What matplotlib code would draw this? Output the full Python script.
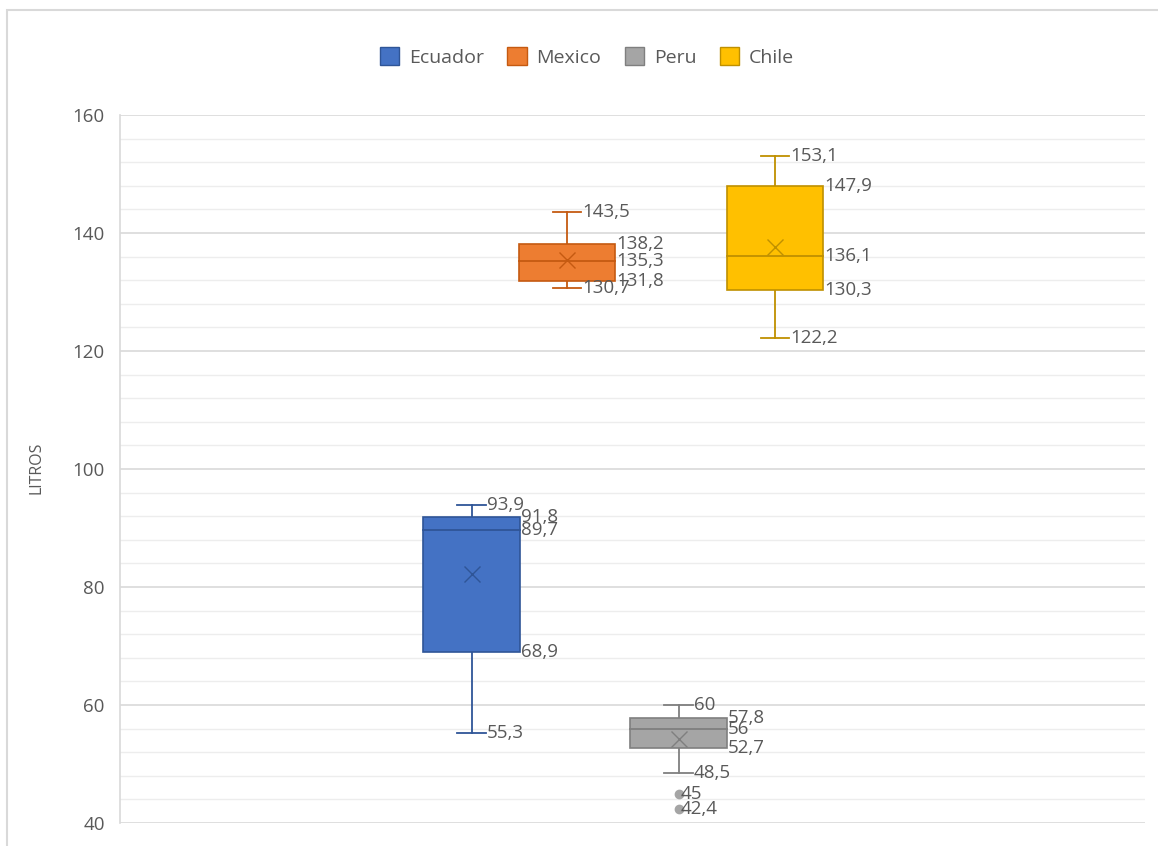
import numpy as np
import matplotlib.pyplot as plt
from matplotlib.patches import Rectangle, Patch

# --- Daten ---
COUNTRIES = ["Ecuador", "Mexico", "Peru", "Chile"]
COLORS = ["#4472C4", "#ED7D31", "#A5A5A5", "#FFC000"]
EDGES = ["#2F5597", "#C55A11", "#7F7F7F", "#BF9000"]

WHISK_LOW = [55.3, 130.7, 48.5, 122.2]
Q1 = [68.9, 131.8, 52.7, 130.3]
MEDIAN = [89.7, 135.3, 56.0, 136.1]
Q3 = [91.8, 138.2, 57.8, 147.9]
WHISK_HIGH = [93.9, 143.5, 60.0, 153.1]
MEANS = [82.2, 135.4, 54.2, 137.6]
OUTLIERS = [[], [], [45.0, 42.4], []]

Y_TICKS = [40, 60, 80, 100, 120, 140, 160]

# Lage der Boxen innerhalb der Kategorie (Achse 0..1)
POSITIONS = [0.343, 0.436, 0.545, 0.639]
BOX_W = 0.094
CAP_W = 0.028

TXT = "#595959"
FONT = "Open Sans"
LBL_SIZE = 13.5


def fmt(v):
    s = f"{v:g}"
    return s.replace(".", ",")


def plot_chart():
    fig = plt.figure(figsize=(11.58, 8.46), dpi=100)
    ax = fig.add_axes([120 / 1158, 1 - 823 / 846, 1025 / 1158, 708 / 846])

    # Rahmen des Diagrammbereichs
    fig.patches.append(Rectangle((7 / 1158, -0.1), 1.2, 1 - 10 / 846 + 0.1,
                                 transform=fig.transFigure, fill=False,
                                 edgecolor="#D9D9D9", linewidth=1.5))

    ax.set_xlim(0, 1)
    ax.set_ylim(40, 160)

    # Gitterlinien
    for y in np.arange(40, 161, 4):
        major = (y % 20 == 0)
        ax.axhline(y, color="#D9D9D9" if major else "#EDEDED",
                   linewidth=1.2 if major else 1.0, zorder=0)

    for i in range(len(COUNTRIES)):
        x = POSITIONS[i]
        c, e = COLORS[i], EDGES[i]
        # Whisker
        ax.plot([x, x], [WHISK_LOW[i], Q1[i]], color=e, lw=1.3, zorder=2)
        ax.plot([x, x], [Q3[i], WHISK_HIGH[i]], color=e, lw=1.3, zorder=2)
        ax.plot([x - CAP_W / 2, x + CAP_W / 2], [WHISK_LOW[i]] * 2, color=e, lw=1.3, zorder=2)
        ax.plot([x - CAP_W / 2, x + CAP_W / 2], [WHISK_HIGH[i]] * 2, color=e, lw=1.3, zorder=2)
        # Box
        ax.add_patch(Rectangle((x - BOX_W / 2, Q1[i]), BOX_W, Q3[i] - Q1[i],
                               facecolor=c, edgecolor=e, lw=1.2, zorder=3))
        ax.plot([x - BOX_W / 2, x + BOX_W / 2], [MEDIAN[i]] * 2, color=e, lw=1.3, zorder=4)
        # Mittelwert
        ax.plot(x, MEANS[i], marker="x", ms=11, mew=1.0, color=e, zorder=5)

        kw = dict(color=TXT, fontsize=LBL_SIZE, family=FONT, va="center", ha="left", zorder=6)
        # Ausreisser
        for o in OUTLIERS[i]:
            ax.plot(x, o, marker="o", ms=6, color=c, mec=c, zorder=5)
            ax.text(x + 0.002, o, fmt(o), **kw)

        # Beschriftungen
        ax.text(x + CAP_W / 2 + 0.001, WHISK_HIGH[i], fmt(WHISK_HIGH[i]), **kw)
        ax.text(x + CAP_W / 2 + 0.001, WHISK_LOW[i], fmt(WHISK_LOW[i]), **kw)
        ax.text(x + BOX_W / 2 + 0.001, Q3[i], fmt(Q3[i]), **kw)
        ax.text(x + BOX_W / 2 + 0.001, MEDIAN[i], fmt(MEDIAN[i]), **kw)
        ax.text(x + BOX_W / 2 + 0.001, Q1[i], fmt(Q1[i]), **kw)

    # Achsen
    for s in ["top", "right", "bottom"]:
        ax.spines[s].set_visible(False)
    ax.spines["left"].set_color("#D9D9D9")
    ax.spines["left"].set_linewidth(1.2)
    ax.set_xticks([])
    ax.set_yticks(Y_TICKS)
    ax.set_yticklabels([str(t) for t in Y_TICKS], color=TXT, fontsize=13.5, family=FONT)
    ax.tick_params(axis="y", length=0, pad=11)
    fig.text(36 / 1158, 1 - 468 / 846, "LITROS", rotation=90, color=TXT,
             fontsize=11.5, family=FONT, ha="center", va="center")

    handles = [Patch(facecolor=COLORS[i], edgecolor=EDGES[i], label=COUNTRIES[i])
               for i in range(len(COUNTRIES))]
    leg = fig.legend(handles=handles, loc="center", bbox_to_anchor=(587 / 1158, 1 - 57 / 846),
                     ncol=4, frameon=False, handlelength=1.0, handleheight=1.0,
                     handletextpad=0.5, columnspacing=1.2, prop={"family": FONT, "size": 14})
    for t in leg.get_texts():
        t.set_color(TXT)

    fig.savefig("out.png", dpi=100)


if __name__ == "__main__":
    plot_chart()
